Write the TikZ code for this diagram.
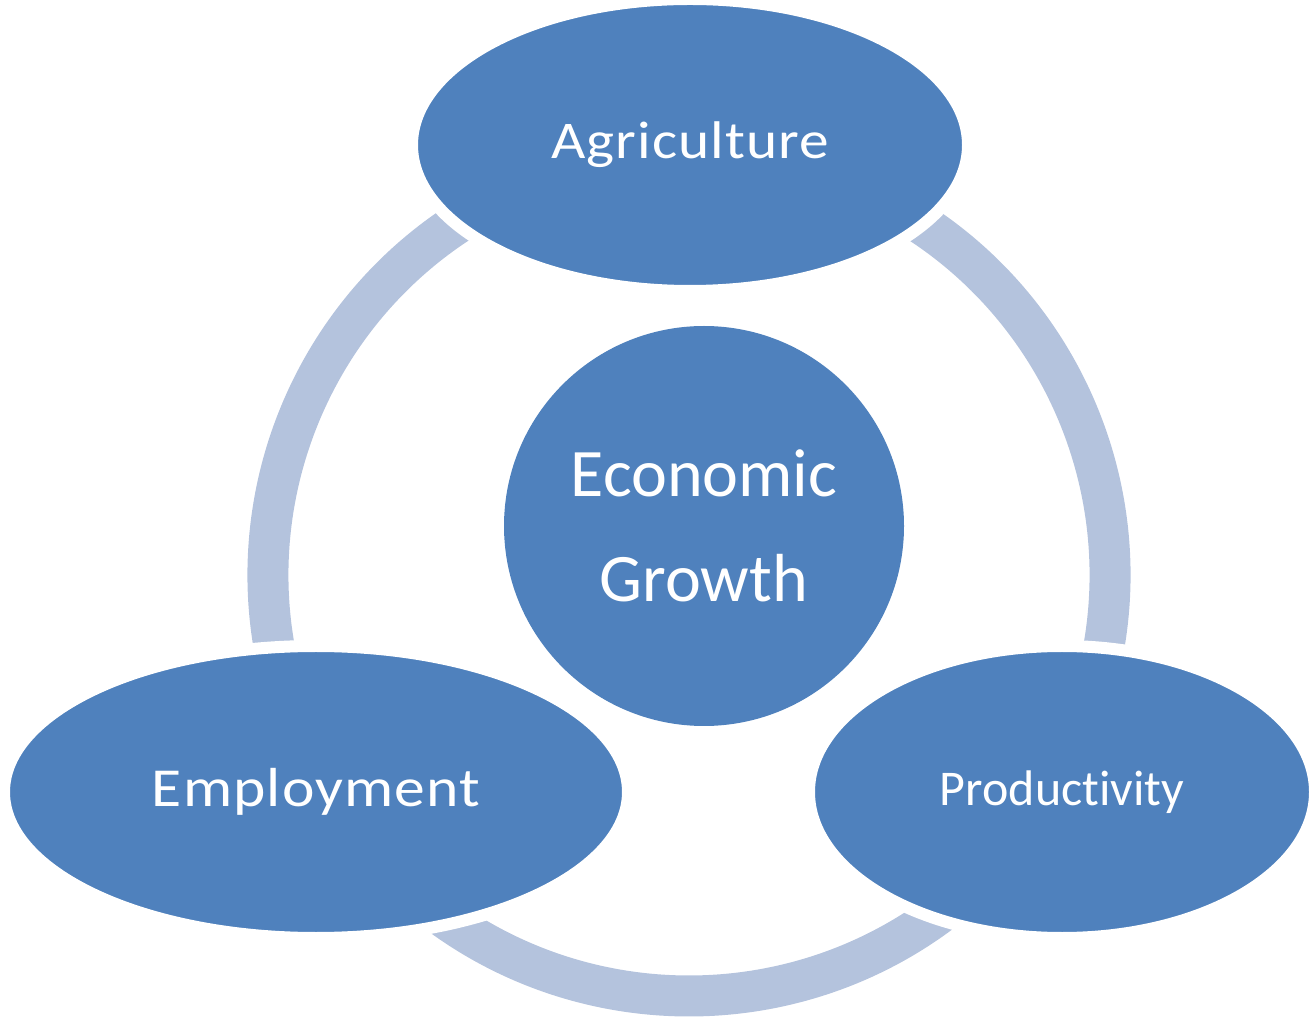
\documentclass[tikz,border=0pt]{standalone}
\usepackage{fontspec}
\setmainfont[Ligatures=NoCommon]{Carlito}
\newfontfamily\spacedfont[Ligatures=NoCommon, FakeStretch=1.12, LetterSpace=2]{Carlito}
\usetikzlibrary{shapes.geometric}
\definecolor{blob}{HTML}{4F81BD}
\definecolor{ringcol}{HTML}{B4C3DD}

\begin{document}
\begin{tikzpicture}[x=1pt, y=1pt,
  topic/.style={ellipse, fill=blob, draw=white, line width=12pt, inner sep=0pt,
                minimum height=292pt, text=white, align=center},
  ringarc/.style={draw=ringcol, line width=41pt}
]
  \useasboundingbox (0,0) rectangle (1309,1018);
  \coordinate (hub) at (689,443);
  \draw[ringarc] (hub) ++(115:421pt) arc[start angle=115, end angle=198, radius=421pt];
  \draw[ringarc] (hub) ++(-18:421pt) arc[start angle=-18, end angle=65, radius=421pt];
  \draw[ringarc] (hub) ++(228:421pt) arc[start angle=228, end angle=312, radius=421pt];
  \node[topic, minimum width=556pt, font=\spacedfont\fontsize{53}{64}\selectfont] (agri) at (690,873) {Agriculture};
  \node[topic, minimum width=624pt, font=\spacedfont\fontsize{55}{66}\selectfont] (employ) at (316,226) {Employment};
  \node[topic, minimum width=506pt, font=\fontsize{50}{60}\selectfont] (product) at (1062,226) {Productivity};
  \node[circle, fill=blob, inner sep=0pt, minimum size=400pt, text=white, align=center,
        font=\fontsize{68}{105}\selectfont] (growth) at (704,492) {Economic\\Growth};
\end{tikzpicture}
\end{document}
